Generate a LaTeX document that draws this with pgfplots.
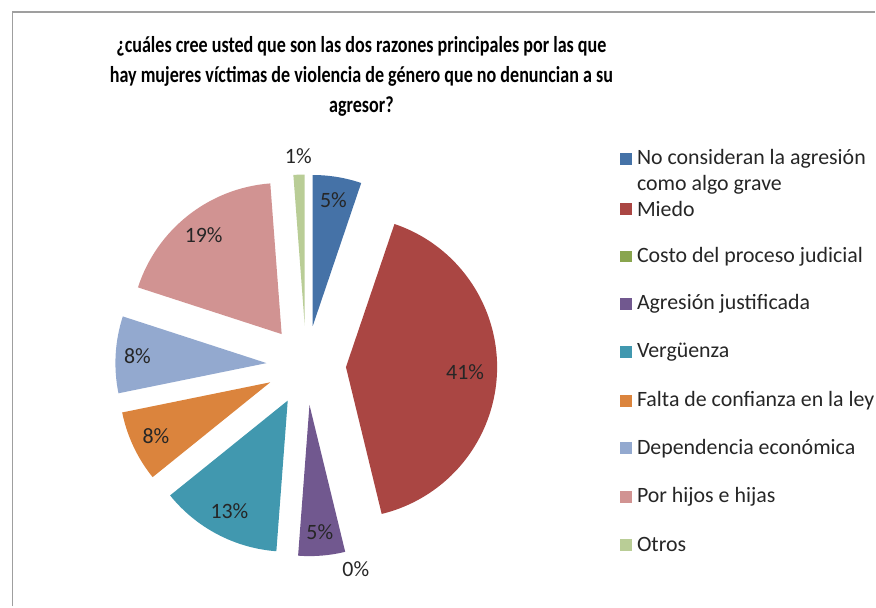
\documentclass[border=0pt]{standalone}
\usepackage{pgfplots}
\pgfplotsset{compat=1.18}
\usepackage{pgfplotstable}
\usepackage{fontspec}
\setmainfont{Carlito}

\definecolor{c0}{HTML}{4572A7}
\definecolor{c1}{HTML}{AA4643}
\definecolor{c2}{HTML}{89A54E}
\definecolor{c3}{HTML}{71588F}
\definecolor{c4}{HTML}{4198AF}
\definecolor{c5}{HTML}{DB843D}
\definecolor{c6}{HTML}{93A9CF}
\definecolor{c7}{HTML}{D19392}
\definecolor{c8}{HTML}{B9CD96}

% percent of answers, label distance from slice tip
\pgfplotstableread{
value dist
5.2  128
41.0 120
0.0  171
5.0  128
13.0 126
7.6  127
8.2  130
18.8 127
1.2  171
}\piedata

\def\cx{303.5}\def\cy{242.5}\def\R{152}\def\ex{40}
\newcommand\lbl{\fontsize{22}{26}\selectfont}
\newcommand\legitem[3]{%
  \fill[#1] (axis cs:619,#2-6) rectangle (axis cs:631,#2+6);
  \node[font=\lbl, anchor=west, inner sep=0pt, text=black!85] at (axis cs:636,#2) {#3};}

\begin{document}
% slice angles, clockwise from 12 o'clock
\xdef\cum{90}
\pgfplotsforeachungrouped \i in {0,...,8}{%
  \pgfplotstablegetelem{\i}{value}\of\piedata \let\v\pgfplotsretval
  \pgfplotstablegetelem{\i}{dist}\of\piedata \let\d\pgfplotsretval
  \pgfmathsetmacro\a{\cum}%
  \pgfmathsetmacro\b{\cum-3.6*\v}%
  \pgfmathsetmacro\m{(\a+\b)/2}%
  \pgfmathsetmacro\px{\cx+\ex*cos(\m)}%
  \pgfmathsetmacro\py{\cy+\ex*sin(\m)}%
  \pgfmathsetmacro\lx{\px+\d*cos(\m)}%
  \pgfmathsetmacro\ly{\py+\d*sin(\m)}%
  \pgfmathtruncatemacro\r{round(\v)}%
  \pgfmathsetmacro\op{\v>0 ? 1 : 0}%
  \expandafter\xdef\csname sa\i\endcsname{\a}%
  \expandafter\xdef\csname sb\i\endcsname{\b}%
  \expandafter\xdef\csname px\i\endcsname{\px}%
  \expandafter\xdef\csname py\i\endcsname{\py}%
  \expandafter\xdef\csname lx\i\endcsname{\lx}%
  \expandafter\xdef\csname ly\i\endcsname{\ly}%
  \expandafter\xdef\csname pc\i\endcsname{\r}%
  \expandafter\xdef\csname op\i\endcsname{\op}%
  \xdef\cum{\b}%
}
\begin{tikzpicture}
\begin{axis}[
    x=1pt, y=1pt,
    xmin=0, xmax=876, ymin=0, ymax=610,
    hide axis, clip=false,
    anchor=origin,
]
\path (axis cs:0,0) rectangle (axis cs:876,610);
\draw[gray!75, line width=1.2pt] (axis cs:8,0) -- (axis cs:8,598) -- (axis cs:876,598);

\pgfplotsinvokeforeach{0,...,8}{
  \fill[c#1, fill opacity=\csname op#1\endcsname] (axis cs:\csname px#1\endcsname,\csname py#1\endcsname)
    -- ++(\csname sa#1\endcsname:\R pt)
    arc[start angle=\csname sa#1\endcsname, end angle=\csname sb#1\endcsname, radius=\R pt]
    -- cycle;
  \node[font=\lbl, text=black!85] at (axis cs:\csname lx#1\endcsname,\csname ly#1\endcsname) {\csname pc#1\endcsname\%};
}

\node[font=\bfseries\fontsize{23}{30.5}\selectfont] at (axis cs:359,533)
  {\scalebox{0.79}[1]{\begin{tabular}{@{}c@{}}
   ¿cuáles cree usted que son las dos razones principales por las que\\
   hay mujeres víctimas de violencia de género que no denuncian a su\\
   agresor?\end{tabular}}};

% legend
\fill[c0] (axis cs:619,444) rectangle (axis cs:631,456);
\node[font=\lbl, anchor=west, align=left, inner sep=0pt, text=black!85] at (axis cs:636,437)
  {No consideran la agresión\\como algo grave};
\legitem{c1}{400}{Miedo}
\legitem{c2}{352}{Costo del proceso judicial}
\legitem{c3}{304}{Agresión justificada}
\legitem{c4}{256}{Vergüenza}
\legitem{c5}{207}{Falta de confianza en la ley}
\legitem{c6}{159}{Dependencia económica}
\legitem{c7}{110}{Por hijos e hijas}
\legitem{c8}{62}{Otros}
\end{axis}
\end{tikzpicture}
\end{document}
